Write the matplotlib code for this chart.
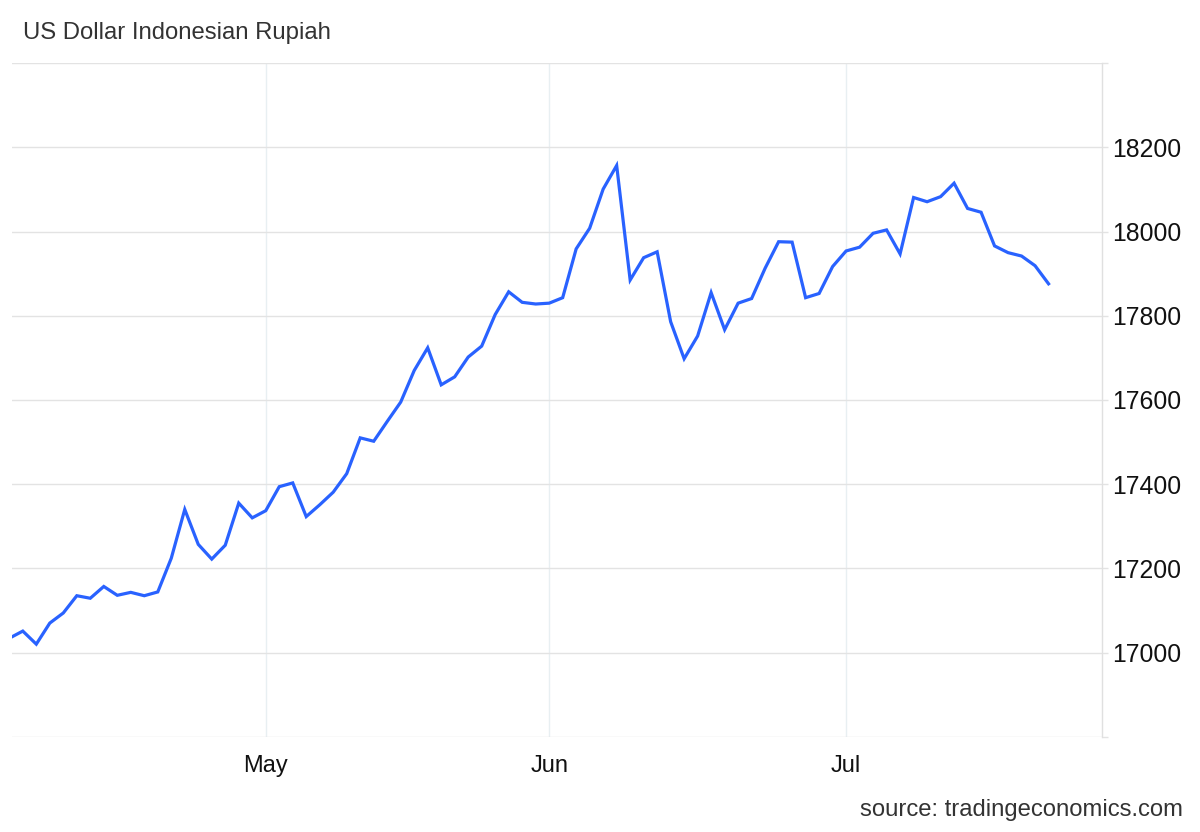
import matplotlib
matplotlib.use("Agg")
import matplotlib.pyplot as plt
import numpy as np
import pandas as pd

# ---- data ----
dates = pd.bdate_range("2026-04-06", periods=78)
values = [
    17034, 17051, 17020, 17070, 17094, 17135, 17129, 17157, 17136, 17143,
    17135, 17144, 17224, 17340, 17257, 17222, 17255, 17355, 17320, 17337,
    17394, 17403, 17323, 17351, 17381, 17425, 17510, 17502, 17549, 17595,
    17670, 17724, 17636, 17655, 17702, 17728, 17803, 17857, 17832, 17828,
    17830, 17843, 17959, 18008, 18101, 18157, 17885, 17938, 17952, 17786,
    17698, 17752, 17855, 17767, 17830, 17841, 17913, 17976, 17975, 17843,
    17853, 17917, 17954, 17963, 17996, 18004, 17947, 18081, 18071, 18083,
    18115, 18055, 18046, 17966, 17950, 17942, 17919, 17876,
]
month_ticks = ["2026-05-01", "2026-06-01", "2026-07-01"]
month_labels = ["May", "Jun", "Jul"]
y_ticks = [16800, 17000, 17200, 17400, 17600, 17800, 18000, 18200, 18400]
y_labels = ["", "17000", "17200", "17400", "17600", "17800", "18000", "18200", ""]
title = "US Dollar Indonesian Rupiah"
source = "source: tradingeconomics.com"

plt.rcParams["font.family"] = ["Liberation Sans", "DejaVu Sans"]

fig = plt.figure(figsize=(12, 8.32), dpi=100)
ax = fig.add_axes([0.01, 0.1145, 0.908, 0.8095])

idx = np.arange(len(values))
ax.plot(idx, values, color="#2962FF", lw=2.3, solid_joinstyle="miter", zorder=3)

ax.set_xlim(0.2, 80.93)
ax.set_ylim(16800, 18400)

pos = {d: i for i, d in enumerate(dates)}
xt = [pos[pd.Timestamp(d)] for d in month_ticks]
ax.set_xticks(xt)
ax.set_xticklabels(month_labels, fontsize=17, color="#111111")
ax.tick_params(axis="x", length=0, pad=13)
ax.grid(axis="x", color="#e8eff2", lw=1)

ax.yaxis.tick_right()
ax.set_yticks(y_ticks)
ax.set_yticklabels(y_labels, fontsize=17.8, color="#111111")
ax.tick_params(axis="y", length=4.5, width=1, color="#e3e3e3", pad=3)
ax.grid(axis="y", color="#e3e3e3", lw=1)
ax.set_axisbelow(True)

for s in ["left", "top", "bottom"]:
    ax.spines[s].set_visible(False)
ax.spines["right"].set_color("#e0e0e0")
ax.spines["right"].set_linewidth(1)

fig.text(23 / 1200, 1 - 33 / 832, title, fontsize=17.2, color="#333333",
         ha="left", va="center")
fig.text(1183 / 1200, 1 - 810 / 832, source, fontsize=17.2, color="#333333",
         ha="right", va="center")

fig.savefig("out.png", dpi=100)
